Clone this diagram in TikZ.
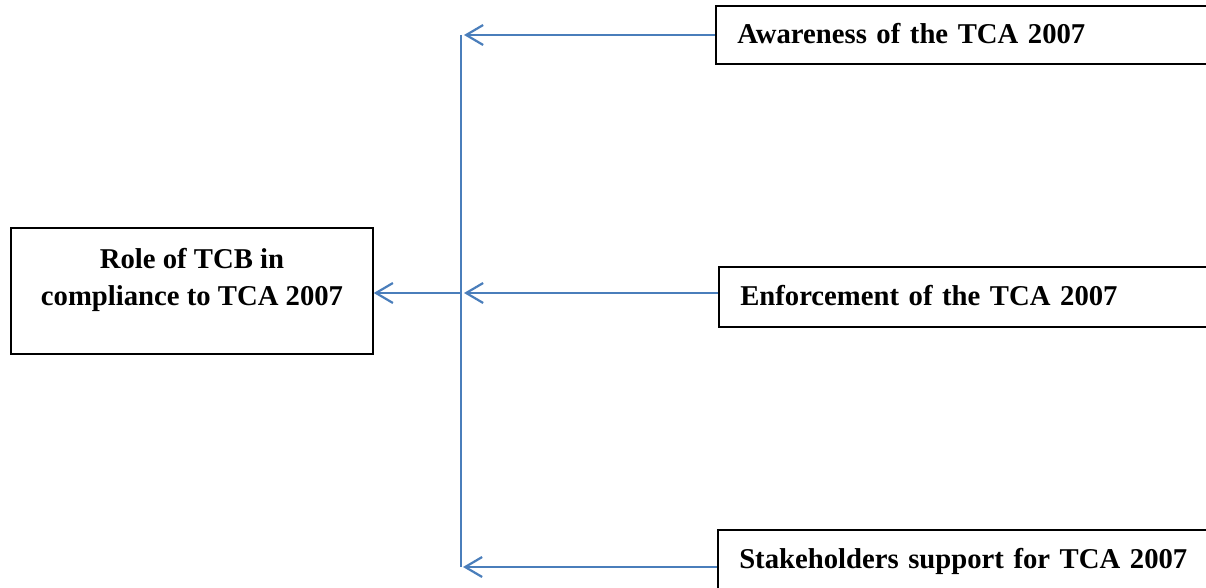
\documentclass[tikz,border=0pt]{standalone}
\usepackage{fontspec}
\setmainfont{Liberation Serif}
\usetikzlibrary{arrows.meta}
\definecolor{linkblue}{HTML}{4A7EBB}
\tikzset{
  txt/.style={font=\fontsize{28.7}{37}\selectfont\bfseries},
  sidebox/.style={draw=black, line width=1.5pt, txt, text width=480pt, align=left,
    inner xsep=21.5pt, inner ysep=16pt, text height=22pt, anchor=base west},
  mainbox/.style={draw=black, line width=1.5pt, minimum width=362pt, minimum height=126pt, inner sep=0pt},
  link/.style={draw=linkblue, line width=2.2pt},
  linkarr/.style={link, -{Straight Barb[length=17pt,width=20pt,line width=2.2pt]}}
}
\begin{document}
\begin{tikzpicture}[x=1pt,y=-1pt]
\clip (0,0) rectangle (1206,588);
\fill[white] (0,0) rectangle (1206,588);

\node[mainbox] (role) at (192,291) {};
\node[txt, align=center, anchor=base] (roletext) at (192,305) {Role of TCB in\\compliance to TCA 2007};

\node[sidebox, text depth=4pt] (aw) at (715,44) {Awareness of the TCA 2007};
\node[sidebox, text depth=6pt] (enf) at (718,305) {Enforcement of the TCA 2007};
\node[sidebox, text depth=20pt] (stk) at (717,568) {Stakeholders support for TCA 2007};

\coordinate (jt) at (461,35);
\coordinate (jm) at (461,293);
\coordinate (jb) at (461,567);

\draw[link] (jt) -- (jb);
\draw[linkarr] (aw.west) -- ([xshift=3pt]jt);
\draw[linkarr] ([yshift=4pt]enf.west) -- ([xshift=3pt]jm);
\draw[linkarr] (stk.west) -- ([xshift=2pt]jb);
\draw[linkarr] (jm) -- (role.east |- jm);
\end{tikzpicture}
\end{document}
